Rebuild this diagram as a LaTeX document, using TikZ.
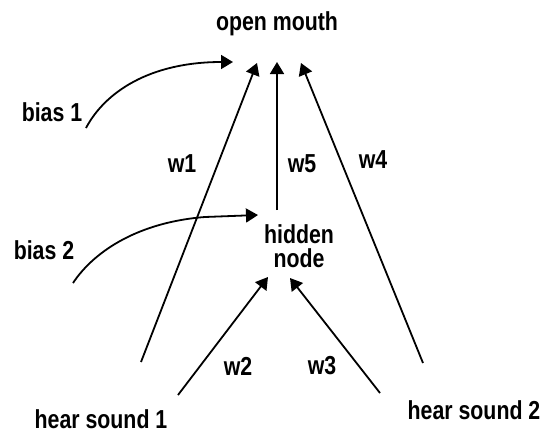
\documentclass[tikz,border=0pt]{standalone}
\usepackage{fontspec}
\setmainfont[FakeStretch=0.82]{Liberation Sans}
\usetikzlibrary{arrows.meta}

\begin{document}
\begin{tikzpicture}[x=1pt, y=-1pt,
    lbl/.style={font=\bfseries\fontsize{26}{24}\selectfont, align=center, inner sep=0pt},
    wire/.style={line width=1.8pt, -{Triangle[length=12pt, width=14pt]}}]
    \useasboundingbox (0, 0) rectangle (544, 434);
    % texts
    \node[lbl] (om) at (277, 24) {open mouth};
    \node[lbl] (hn) at (299, 246) {hidden\\node};
    \node[lbl] (b1) at (52, 112) {bias 1};
    \node[lbl] (b2) at (44, 250) {bias 2};
    \node[lbl] (hs1) at (101, 419) {hear sound 1};
    \node[lbl] (hs2) at (474, 410) {hear sound 2};
    \node[lbl] (w1) at (182, 164) {w1};
    \node[lbl] (w5) at (302, 164) {w5};
    \node[lbl] (w4) at (373, 160) {w4};
    \node[lbl] (w2) at (238, 366) {w2};
    \node[lbl] (w3) at (322, 366) {w3};
    % ends of the connectors
    \coordinate (b1s) at (86, 128);
    \coordinate (b1e) at (233, 62);
    \coordinate (b2s) at (73, 283);
    \coordinate (b2m) at (205, 217);
    \coordinate (b2e) at (258, 215);
    \coordinate (w1s) at (141, 362);
    \coordinate (w1e) at (257, 63);
    \coordinate (w5s) at (277, 210);
    \coordinate (w5e) at (277, 62);
    \coordinate (w4s) at (423, 363);
    \coordinate (w4e) at (301, 63);
    \coordinate (w2s) at (178, 395);
    \coordinate (w2e) at (268, 277);
    \coordinate (w3s) at (380, 393);
    \coordinate (w3e) at (290, 278);
    \draw[wire] (b1s) .. controls (105, 92) and (150, 62) .. (b1e);
    \draw[wire] (b2s) .. controls (95, 250) and (140, 222) .. (b2m) -- (b2e);
    \draw[wire] (w1s) -- (w1e);
    \draw[wire] (w5s) -- (w5e);
    \draw[wire] (w4s) -- (w4e);
    \draw[wire] (w2s) -- (w2e);
    \draw[wire] (w3s) -- (w3e);
\end{tikzpicture}
\end{document}
